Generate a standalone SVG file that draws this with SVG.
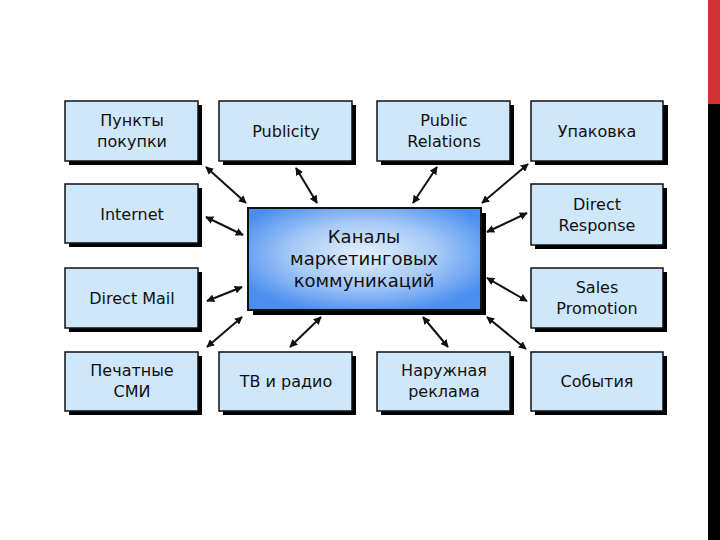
<svg xmlns="http://www.w3.org/2000/svg" width="720" height="540" viewBox="0 0 720 540">
<defs>
<style>
.box{fill:#cfe7fa;stroke:#111;stroke-width:1.5}
.sh{fill:#000}
.t{font-family:"DejaVu Sans",Verdana,sans-serif;font-size:16px;fill:#111;text-anchor:middle}
.tc{font-family:"DejaVu Sans",Verdana,sans-serif;font-size:18px;fill:#111;text-anchor:middle}
.c{stroke:#111;stroke-width:2;fill:none;marker-start:url(#a);marker-end:url(#a)}
</style>
<marker id="a" viewBox="0 0 10 10" refX="9" refY="5" markerWidth="4" markerHeight="4" orient="auto-start-reverse" markerUnits="strokeWidth">
<path d="M0,0L10,5L0,10z" fill="#111"/>
</marker>
<radialGradient id="g" cx="0.5" cy="0.45" r="0.6">
<stop offset="0" stop-color="#e4f0fc"/>
<stop offset="0.5" stop-color="#a9cbf7"/>
<stop offset="1" stop-color="#4a8ef0"/>
</radialGradient>
</defs>
<rect width="720" height="540" fill="#fff"/>
<rect x="708" y="0" width="12" height="104" fill="#d03434"/>
<rect x="708" y="104" width="12" height="436" fill="#000"/>

<g id="connectors">
<line class="c" x1="206" y1="167" x2="246" y2="203"/>
<line class="c" x1="296" y1="168" x2="317" y2="203"/>
<line class="c" x1="437" y1="167" x2="413" y2="203"/>
<line class="c" x1="528" y1="164" x2="482" y2="203"/>
<line class="c" x1="206" y1="217" x2="243" y2="235"/>
<line class="c" x1="527" y1="213" x2="487" y2="232"/>
<line class="c" x1="207" y1="301" x2="242" y2="287"/>
<line class="c" x1="527" y1="301" x2="487" y2="278"/>
<line class="c" x1="207" y1="347" x2="242" y2="317"/>
<line class="c" x1="290" y1="347" x2="321" y2="317"/>
<line class="c" x1="448" y1="347" x2="423" y2="317"/>
<line class="c" x1="526" y1="349" x2="487" y2="317"/>
</g>

<g id="center">
<rect class="sh" x="253" y="213" width="233" height="102"/>
<rect x="248" y="208" width="233" height="102" fill="url(#g)" stroke="#111" stroke-width="2"/>
<text class="tc" x="364" y="243">Каналы</text>
<text class="tc" x="364" y="265">маркетинговых</text>
<text class="tc" x="364" y="287">коммуникаций</text>
</g>

<g id="n1"><rect class="sh" x="69" y="105" width="133" height="60"/><rect class="box" x="65" y="101" width="133" height="60"/>
<text class="t" x="132" y="126">Пункты</text><text class="t" x="132" y="147">покупки</text></g>
<g id="n2"><rect class="sh" x="223" y="105" width="133" height="60"/><rect class="box" x="219" y="101" width="133" height="60"/>
<text class="t" x="286" y="137">Publicity</text></g>
<g id="n3"><rect class="sh" x="381" y="105" width="133" height="60"/><rect class="box" x="377" y="101" width="133" height="60"/>
<text class="t" x="444" y="126">Public</text><text class="t" x="444" y="147">Relations</text></g>
<g id="n4"><rect class="sh" x="535" y="105" width="133" height="60"/><rect class="box" x="531" y="101" width="132" height="60"/>
<text class="t" x="597" y="137">Упаковка</text></g>

<g id="n5"><rect class="sh" x="69" y="188" width="133" height="59"/><rect class="box" x="65" y="184" width="133" height="59"/>
<text class="t" x="132" y="220">Internet</text></g>
<g id="n6"><rect class="sh" x="535" y="188" width="132" height="61"/><rect class="box" x="531" y="184" width="132" height="61"/>
<text class="t" x="597" y="210">Direct</text><text class="t" x="597" y="231">Response</text></g>

<g id="n7"><rect class="sh" x="69" y="272" width="133" height="60"/><rect class="box" x="65" y="268" width="133" height="60"/>
<text class="t" x="132" y="304">Direct Mail</text></g>
<g id="n8"><rect class="sh" x="535" y="272" width="132" height="60"/><rect class="box" x="531" y="268" width="132" height="60"/>
<text class="t" x="597" y="293">Sales</text><text class="t" x="597" y="314">Promotion</text></g>

<g id="n9"><rect class="sh" x="69" y="356" width="133" height="59"/><rect class="box" x="65" y="352" width="133" height="59"/>
<text class="t" x="132" y="376">Печатные</text><text class="t" x="132" y="397">СМИ</text></g>
<g id="n10"><rect class="sh" x="223" y="356" width="133" height="59"/><rect class="box" x="219" y="352" width="133" height="59"/>
<text class="t" x="286" y="387">ТВ и радио</text></g>
<g id="n11"><rect class="sh" x="381" y="356" width="133" height="59"/><rect class="box" x="377" y="352" width="133" height="59"/>
<text class="t" x="444" y="376">Наружная</text><text class="t" x="444" y="397">реклама</text></g>
<g id="n12"><rect class="sh" x="535" y="356" width="132" height="59"/><rect class="box" x="531" y="352" width="132" height="59"/>
<text class="t" x="597" y="387">События</text></g>
</svg>
